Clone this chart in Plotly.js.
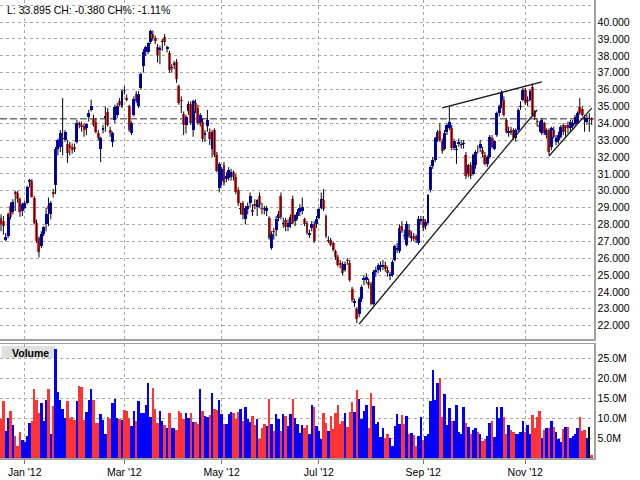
<!DOCTYPE html>
<html><head><meta charset="utf-8">
<script src="https://cdn.plot.ly/plotly-3.0.1.min.js"></script>
<style>html,body{margin:0;padding:0;background:#fff}#chart{width:640px;height:480px}</style>
</head><body><div id="chart"></div>
<script>
// ---- data ----
const startDate = '2011-12-15';
const holidays = ['2011-12-26','2011-12-27','2012-01-02','2012-04-06','2012-04-09','2012-05-07','2012-06-04','2012-06-05','2012-08-27'];
const open = [28.4,28.2,27.1,27.3,29.1,28.75,29.9,29.85,29.5,28.8,29.0,29.3,30.5,30.55,29.6,28.1,27.2,26.75,27.45,28.0,29.1,28.6,29.9,30.35,32.5,32.6,33.05,33.0,32.8,32.7,32.6,32.6,32.9,34.0,33.9,33.85,33.7,34.4,34.8,34.3,34.1,33.4,32.5,33.6,34.3,34.65,33.6,32.9,34.2,34.5,35.3,35.0,36.0,35.5,35.0,33.45,34.5,35.75,35.05,36.1,37.4,38.2,38.25,38.8,39.3,39.05,38.5,38.35,38.8,39.1,38.4,38.15,37.25,37.45,37.65,36.2,35.4,34.55,33.9,34.75,35.15,33.6,35.2,34.9,34.0,34.1,33.3,33.85,33.5,32.5,33.6,32.1,30.15,30.6,31.5,30.7,30.75,30.8,31.1,30.8,30.05,28.9,29.25,28.3,28.9,29.25,28.85,29.2,29.05,29.7,29.0,28.95,28.8,28.4,26.6,27.6,27.65,28.4,29.7,28.0,28.25,27.85,28.0,29.5,28.2,28.5,28.75,28.8,28.3,28.1,27.4,27.8,28.05,28.0,28.4,29.0,29.45,28.5,27.0,27.1,26.9,26.4,26.05,25.7,25.6,25.3,25.9,25.7,24.15,23.35,23.0,22.7,23.6,24.7,24.7,24.6,24.5,23.3,25.2,25.3,25.45,25.5,25.6,25.3,24.95,25.0,25.9,26.5,26.4,27.9,27.4,26.8,27.65,27.2,27.3,27.3,26.9,28.2,28.35,27.9,28.1,30.05,31.45,31.8,33.1,33.55,32.95,32.5,33.5,33.75,33.75,32.55,32.4,32.75,32.7,32.75,32.1,31.0,31.5,31.0,31.5,32.5,32.55,32.4,32.1,31.6,32.0,33.1,32.5,33.3,34.6,35.0,35.4,34.2,33.45,33.6,33.6,33.1,33.6,34.95,35.4,35.95,35.3,35.4,36.15,34.7,34.15,33.9,33.4,34.0,33.3,33.6,32.6,33.6,32.9,33.0,33.2,33.9,33.7,33.9,33.7,33.85,33.95,34.1,34.95,34.85,34.4,34.1,34.275,34.3];
const high = [28.6,28.5,27.5,28.7,29.3,29.5,30.0,30.0,29.6,29.3,29.4,30.3,30.7,30.7,29.7,28.3,27.3,27.6,27.9,29.0,29.6,29.4,30.1,32.6,33.1,33.6,35.5,33.6,33.0,32.9,32.8,32.8,34.2,34.1,34.1,34.0,34.0,34.8,35.4,34.5,34.3,33.6,33.2,33.9,35.0,34.9,33.8,33.5,35.1,35.2,35.5,36.0,36.2,35.7,35.1,34.1,35.6,35.9,35.9,37.0,38.4,38.6,38.8,39.55,39.5,39.2,38.7,38.6,39.0,39.3,38.6,38.3,37.5,37.7,37.8,36.3,35.6,34.7,34.5,35.3,35.3,35.4,35.4,35.1,34.6,34.3,33.6,34.8,33.7,33.6,33.7,32.3,31.7,31.4,31.7,31.1,31.4,31.3,31.2,31.0,30.2,29.3,29.4,29.1,29.3,29.9,29.2,29.5,29.5,29.9,29.3,29.1,29.1,28.5,27.6,27.8,28.5,28.8,29.9,28.4,28.4,28.3,28.6,29.7,28.6,28.9,29.2,29.6,28.4,28.2,27.7,28.2,28.2,28.5,29.0,29.9,30.1,28.6,27.3,27.2,27.0,26.5,26.2,25.9,25.8,25.8,26.0,25.9,24.3,23.6,23.1,23.7,24.4,25.0,25.1,24.8,24.6,25.3,25.5,25.7,25.8,25.9,25.8,25.5,25.2,25.9,26.8,26.9,28.0,28.2,27.7,28.2,28.0,27.6,27.5,27.4,28.5,28.5,28.5,28.3,29.8,31.5,32.0,33.2,33.6,34.0,33.1,33.6,34.0,35.0,33.9,33.1,32.7,33.1,33.0,33.0,32.3,31.6,31.7,32.2,32.4,32.7,33.0,32.6,32.3,32.1,33.3,33.3,33.0,34.7,35.1,35.95,35.6,34.3,33.8,33.8,33.7,33.7,34.9,35.3,36.1,36.1,35.6,36.0,36.35,34.8,34.3,34.1,34.3,34.1,33.7,33.7,33.8,33.8,33.3,33.5,33.9,34.0,33.9,34.1,34.2,34.2,34.5,34.7,35.5,35.0,34.5,34.5,34.6,34.35];
const low = [27.6,27.4,27.0,27.2,28.3,28.6,28.8,29.3,28.45,28.5,28.9,29.2,30.2,29.6,28.0,26.9,26.05,26.6,27.3,27.6,27.9,28.3,29.6,29.8,32.1,32.3,32.1,32.9,31.65,32.1,32.2,32.3,32.8,33.7,33.5,33.2,33.3,34.1,34.7,33.8,33.4,33.0,31.7,33.4,33.5,33.8,33.2,32.6,34.0,34.3,35.0,34.9,35.7,35.3,33.5,33.3,34.4,35.2,34.9,36.0,37.0,38.0,38.1,38.7,38.9,38.7,37.6,37.5,38.3,38.6,38.2,37.0,37.0,37.2,36.4,35.1,34.6,33.3,33.4,34.5,33.9,33.2,34.6,33.9,33.8,32.9,32.9,33.5,32.7,32.0,32.0,31.1,29.9,30.3,30.3,30.5,30.6,30.6,30.6,29.8,29.1,28.6,28.3,28.0,28.6,29.0,28.5,28.9,28.5,29.0,28.6,28.6,28.5,27.1,26.5,27.1,27.3,28.2,28.3,27.8,27.6,27.6,27.8,28.0,27.9,28.3,28.5,28.6,27.9,27.4,27.2,27.6,26.9,27.8,28.3,28.9,28.8,27.2,26.9,26.7,26.4,25.9,25.5,25.4,25.0,25.2,25.6,24.6,23.4,23.1,22.15,22.5,23.4,24.4,24.5,24.2,23.2,23.2,24.9,25.1,25.2,25.3,25.2,24.9,24.7,24.9,25.8,26.3,26.3,27.5,27.1,26.7,27.2,27.0,27.0,26.9,26.8,28.0,27.6,27.7,28.0,29.9,31.3,31.7,32.9,32.9,32.2,32.4,33.3,33.6,32.4,32.4,31.6,32.6,32.5,32.5,30.7,30.8,30.7,30.9,31.3,32.2,32.3,32.0,31.5,31.4,31.9,32.5,32.4,33.2,34.4,34.9,34.4,33.4,33.2,33.3,33.0,32.9,33.5,34.8,35.3,35.1,35.0,35.3,34.4,34.2,33.8,33.5,33.3,33.3,33.1,32.1,32.4,33.1,32.7,32.8,33.1,33.3,33.2,33.4,33.5,33.6,33.8,34.0,34.5,34.4,33.5,33.9,33.5,33.895];
const close = [28.0,27.9,27.25,28.6,28.45,29.35,29.8,29.5,28.75,29.2,29.3,30.2,30.65,29.65,28.1,27.0,26.35,27.45,27.85,28.6,28.9,29.25,29.8,32.5,33.0,33.4,33.15,33.5,32.25,32.55,32.4,32.5,34.0,33.9,33.8,33.6,33.95,34.6,35.0,33.9,33.5,33.1,33.1,33.75,34.45,33.9,33.4,33.45,34.95,35.05,35.1,35.9,35.9,35.4,33.6,34.0,35.45,35.35,35.75,36.9,38.25,38.5,38.75,39.45,39.05,38.85,38.05,38.45,38.9,38.8,38.5,37.15,37.35,37.55,36.6,35.2,35.3,33.9,34.4,35.15,34.0,35.3,34.7,34.0,34.5,33.05,33.45,34.2,33.05,33.5,32.1,31.2,31.6,31.3,30.45,30.9,31.25,31.1,30.8,29.95,29.3,29.0,28.55,28.95,29.1,29.7,28.75,29.1,29.45,29.15,28.9,28.85,28.95,27.2,27.45,27.55,28.35,28.6,28.45,28.1,27.85,28.1,28.45,28.1,28.55,28.75,29.0,29.05,28.0,27.5,27.5,28.05,27.0,28.35,28.9,29.5,28.9,27.3,27.1,26.8,26.5,26.05,25.6,25.6,25.1,25.65,25.85,24.7,23.5,23.45,22.4,23.6,24.3,24.8,24.9,24.4,23.3,25.2,25.3,25.6,25.55,25.6,25.35,25.1,25.05,25.8,26.7,26.6,27.8,27.6,27.3,28.0,27.3,27.3,27.15,27.1,28.35,28.3,27.8,28.15,29.75,31.4,31.85,33.1,33.5,33.0,32.35,33.45,33.9,34.1,32.55,32.95,32.5,32.9,32.8,32.85,30.85,31.5,30.85,32.1,32.3,32.45,32.8,32.15,31.6,32.0,33.2,32.6,32.95,34.6,35.0,35.85,34.5,33.5,33.55,33.4,33.1,33.6,34.8,35.05,35.95,35.2,35.4,35.9,34.5,34.4,34.05,33.8,34.2,33.4,33.6,32.3,33.7,33.2,33.1,33.3,33.8,33.5,33.8,33.7,34.1,34.0,34.4,34.6,34.6,34.5,34.2,34.3,34.275,34.2];
const volumeM = [9.7,14.2,6.9,10.0,11.7,8.4,5.4,3.1,6.4,4.6,3.9,5.4,8.9,9.3,17.2,14.5,11.3,13.8,9.4,14.5,17.4,6.1,13.0,27.3,16.6,14.5,12.4,10.0,14.2,10.0,10.3,9.6,14.2,18.0,17.7,9.5,11.5,14.5,17.4,14.5,8.9,8.9,11.1,9.5,5.9,10.3,9.9,13.8,14.7,10.0,9.9,9.5,12.1,11.8,10.0,8.1,11.7,9.4,14.2,11.3,11.3,13.4,18.9,10.3,17.6,12.4,8.7,11.7,9.4,8.4,7.6,11.3,7.6,7.6,7.1,11.8,11.3,9.8,11.4,10.0,11.3,9.1,9.1,8.6,17.4,11.7,10.6,10.4,10.7,16.3,12.2,12.0,14.5,11.1,8.6,8.5,11.0,11.5,11.3,9.7,11.5,12.2,9.4,12.8,9.9,9.1,10.5,8.3,9.9,4.7,7.5,8.5,8.0,14.7,8.5,6.9,11.0,9.7,6.9,11.0,10.5,8.0,11.0,14.7,10.1,8.5,6.2,8.3,7.5,8.3,5.9,13.2,12.8,8.0,6.7,4.7,11.3,8.8,6.9,10.5,7.2,11.3,13.2,8.6,9.4,11.3,7.7,11.5,14.0,11.5,17.0,14.7,9.9,11.7,13.2,7.5,16.3,13.0,8.5,9.1,5.2,7.5,5.0,5.9,5.0,3.1,8.0,11.0,8.5,10.7,8.5,10.5,6.0,6.3,5.7,3.1,5.4,10.4,4.4,5.4,5.9,14.3,22.0,14.5,18.8,20.0,10.4,16.0,8.4,12.6,9.4,9.2,13.2,6.6,6.1,12.8,8.9,7.7,5.9,7.1,7.5,6.4,6.1,4.2,4.8,5.4,8.9,9.4,5.2,12.8,10.0,12.8,10.4,5.9,8.4,7.1,6.4,6.0,5.9,6.6,9.4,6.5,8.4,6.0,10.8,7.6,10.4,11.7,5.0,7.1,7.6,7.6,9.2,7.7,6.6,4.8,4.0,7.3,7.7,7.9,5.0,5.6,5.9,7.5,10.4,6.9,7.1,5.0,7.7,0.8];
const prevClose = 34.275;
const headerText = 'L: 33.895 CH: -0.380 CH%: -1.11%';
const tickMonths = ['2012-01','2012-03','2012-05','2012-07','2012-09','2012-11'];
const tickLabels = ["Jan '12","Mar '12","May '12","Jul '12","Sep '12","Nov '12"];
const volTicks = [5,10,15,20,25];
const volTickLabels = ['5.0M','10.0M','15.0M','20.0M','25.0M'];
// trend lines drawn on the chart: [date0, price0, date1, price1]
const trendLines = [
  ['2012-09-13', 34.91, '2012-11-12', 36.45],
  ['2012-07-25', 22.10, '2012-11-08', 34.79],
  ['2012-11-15', 32.06, '2012-12-11', 34.90]
];

// ---- build ----
function tradingDays(start, n, hol) {
  const out = []; const d = new Date(start + 'T00:00:00Z');
  while (out.length < n) {
    const dow = d.getUTCDay(); const s = d.toISOString().slice(0, 10);
    if (dow !== 0 && dow !== 6 && hol.indexOf(s) < 0) out.push(s);
    d.setUTCDate(d.getUTCDate() + 1);
  }
  return out;
}
const dates = tradingDays(startDate, close.length, holidays);
const UP = '#0000ff', DOWN = '#ff3333', FLAT = '#000000';
const colors = close.map((c, i) => c > open[i] ? UP : (c < open[i] ? DOWN : FLAT));
const tickvals = tickMonths.map(m => dates.find(d => d.slice(0, 7) === m));

const wx = [], wy = [];
dates.forEach((d, i) => { wx.push(d, d, null); wy.push(low[i], high[i], null); });

const wicks = {type: 'scatter', mode: 'lines', x: wx, y: wy, xaxis: 'x', yaxis: 'y',
  line: {color: '#000', width: 1}, hoverinfo: 'skip', connectgaps: false};
const bodies = {type: 'bar', x: dates, xaxis: 'x', yaxis: 'y',
  base: close.map((c, i) => Math.min(c, open[i])),
  y: close.map((c, i) => Math.max(Math.abs(c - open[i]), 0.04)),
  width: 1.25, marker: {color: colors, line: {width: 0}}, hoverinfo: 'skip'};
const vols = {type: 'bar', x: dates, y: volumeM, xaxis: 'x2', yaxis: 'y2',
  width: 1.0, marker: {color: colors, line: {width: 0}}, hoverinfo: 'skip'};

const GRID = '#aaaaaa', AXL = '#a0a0a0';
const FONT = 'Liberation Sans, Arial, sans-serif';
const H = 458;
const shapes = [
  {type: 'rect', xref: 'paper', yref: 'paper', x0: 0, x1: 240 / 594, y0: (H - 15) / H, y1: 1,
   fillcolor: '#ffffff', line: {width: 0}, layer: 'between'},
  {type: 'rect', xref: 'paper', yref: 'paper', x0: 1.7 / 594, x1: 55 / 594, y0: (H - 358.3) / H, y1: (H - 346) / H,
   fillcolor: '#e0e0e0', line: {width: 0}, layer: 'between'},
  {type: 'line', xref: 'paper', yref: 'y', x0: 0, x1: 1, y0: prevClose, y1: prevClose,
   line: {color: '#707070', width: 1.5, dash: '7px,3px'}, layer: 'between'}
];
trendLines.forEach(t => shapes.push({type: 'line', xref: 'x', yref: 'y', x0: t[0], y0: t[1], x1: t[2], y1: t[3],
  line: {color: '#1a1a1a', width: 1.3}, layer: 'above'}));

const layout = {
  width: 640, height: 480, margin: {l: 0, r: 46, t: 0, b: 22},
  paper_bgcolor: '#fff', plot_bgcolor: '#fff', showlegend: false, bargap: 0,
  font: {family: FONT, size: 10.5, color: '#000'},
  xaxis: {type: 'category', anchor: 'y', range: [-0.42, 249.98], tickvals: tickvals, ticktext: tickLabels,
    showticklabels: false, ticks: '', showgrid: true, gridcolor: GRID, griddash: 'dot', gridwidth: 1,
    showline: true, linecolor: AXL, linewidth: 1.5, zeroline: false},
  yaxis: {domain: [(H - 339) / H, 1], side: 'right', range: [21.21, 41.31], tick0: 22, dtick: 1, tickformat: '.3f',
    showgrid: true, gridcolor: GRID, griddash: 'dot', showline: true, mirror: true, linecolor: AXL, linewidth: 1.5,
    ticks: '', zeroline: false, tickfont: {size: 10.5}},
  xaxis2: {type: 'category', anchor: 'y2', matches: 'x', tickvals: tickvals, ticktext: tickLabels,
    ticks: 'outside', ticklen: 4, tickcolor: '#777', showgrid: true, gridcolor: GRID, griddash: 'dot',
    showline: true, mirror: true, linecolor: AXL, linewidth: 1.5, zeroline: false, tickfont: {size: 10.5}},
  yaxis2: {domain: [0, (H - 344) / H], side: 'right', range: [0, 28.6], tickvals: volTicks, ticktext: volTickLabels,
    showgrid: true, gridcolor: GRID, griddash: 'dot', showline: true, mirror: true, linecolor: AXL, linewidth: 1.5,
    ticks: '', zeroline: false, tickfont: {size: 10.5}},
  shapes: shapes,
  annotations: [
    {xref: 'paper', yref: 'paper', x: 5 / 594, y: (H - 10) / H, xanchor: 'left', yanchor: 'middle',
     text: headerText, showarrow: false, font: {size: 10.5, color: '#000'}},
    {xref: 'paper', yref: 'paper', x: 10 / 594, y: (H - 352.5) / H, xanchor: 'left', yanchor: 'middle',
     text: '<b>Volume</b>', showarrow: false, font: {size: 10.5, color: '#000'}}
  ]
};
Plotly.newPlot('chart', [wicks, bodies, vols], layout, {staticPlot: true, displayModeBar: false});
</script></body></html>
